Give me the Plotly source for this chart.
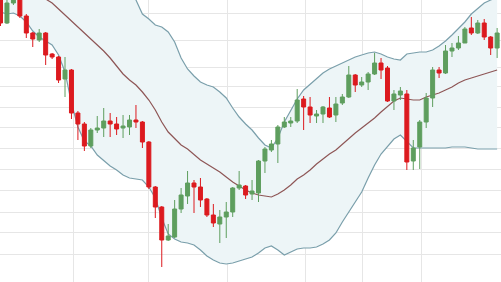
import plotly.graph_objects as go

# Candle data (price units), one entry per session
open_ = [284,259,279,284,266,249,242,249,228,225,
         203,212,169,158,136,152,154,161,158,154,
         155,162,160,140,95,75,42,45,73,86,
         99,95,83,67,58,65,70,94,96,88,
         89,121,132,138,155,159,161,183,175,166,
         168,174,167,179,185,207,197,200,208,219,
         214,181,187,188,121,135,160,184,212,209,
         231,234,239,254,249,259,245,234]
high = [287,282,288,287,268,250,253,250,229,226,
        225,213,171,160,154,166,174,169,165,167,
        167,177,161,141,96,76,58,82,94,111,
        102,104,84,78,72,80,95,111,97,102,
        122,135,142,157,165,165,193,186,185,172,
        176,185,185,188,216,208,205,210,229,224,
        216,192,195,192,142,162,189,215,215,237,
        239,246,255,265,262,263,246,254]
low = [256,258,277,264,244,235,240,217,223,199,
       185,163,142,131,134,149,145,145,147,144,
       147,154,134,93,64,15,41,44,69,78,
       69,75,65,55,39,44,65,92,83,82,
       80,109,130,119,154,155,159,152,159,159,
       159,164,160,177,184,190,195,192,207,203,
       180,172,182,112,112,113,154,175,204,208,
       225,232,239,247,248,242,227,224]
close = [259,279,285,266,249,243,249,227,225,202,
         212,169,158,136,152,154,161,158,153,156,
         162,160,140,95,75,42,46,73,87,99,
         95,82,67,59,65,70,94,97,87,91,
         121,133,138,155,160,161,182,175,167,168,
         175,165,178,185,207,197,200,208,219,212,
         181,188,191,120,134,160,184,212,209,231,
         234,239,253,249,259,245,234,249]

# Bollinger bands
upper = [400,399,398,396,394,392,389,386,382,378,
         374,369,364,358,352,345,337,328,318,306,
         294,282,268,263,257,255,250,240,224,213,
         206,200,197,195,190,184,174,165,158,152,
         144,137,134,144,160,172,183,192,198,204,
         209,213,216,219,222,225,227,229,230,228,
         225,223,222,228,229,230,230,232,236,241,
         247,253,260,268,274,279,282,285]
middle = [320,315,308,302,296,291,287,283,279,273,
          267,261,255,250,244,237,231,224,216,208,
          202,197,190,182,172,160,150,143,137,133,
          127,122,118,114,110,105,100,96,92,89,
          87,86,85,88,92,97,103,107,112,118,
          123,128,132,138,144,149,154,159,164,170,
          176,181,184,183,182,182,185,187,189,192,
          195,199,202,204,206,208,210,212]
lower = [270,268,269,266,260,251,245,241,237,227,
         210,179,155,141,136,127,121,116,112,107,
         104,103,102,95,84,64,48,43,40,39,
         37,32,26,22,19,18,19,21,23,25,
         29,34,36,32,27,30,33,34,34,35,
         38,42,49,60,70,80,90,104,117,128,
         136,143,147,140,134,134,134,134,134,134,
         135,135,135,134,133,133,133,133]

x = list(range(len(close)))

grid_y = [269, 242, 215, 196, 175, 155, 134, 113, 92, 70, 50, 28]
grid_x = [11.24, 22.87, 35.12, 47.21, 56.2, 65.35]
x_range = [-0.08, 77.6]
y_range = [0, 282]

band_col = "#7a9fab"
fig = go.Figure()
fig.add_trace(go.Scatter(x=x, y=lower, mode="lines",
                         line=dict(color=band_col, width=1.2), hoverinfo="skip"))
fig.add_trace(go.Scatter(x=x, y=upper, mode="lines", fill="tonexty",
                         fillcolor="#edf5f7",
                         line=dict(color=band_col, width=1.2), hoverinfo="skip"))
fig.add_trace(go.Scatter(x=x, y=middle, mode="lines",
                         line=dict(color="#8e5656", width=1.2), hoverinfo="skip"))
fig.add_trace(go.Candlestick(
    x=x, open=open_, high=high, low=low, close=close,
    xaxis="x2", yaxis="y2",
    increasing=dict(line=dict(color="#5e9e5e", width=1), fillcolor="#5e9e5e"),
    decreasing=dict(line=dict(color="#dc1a1f", width=1), fillcolor="#dc1a1f"),
    whiskerwidth=0,
))

fig.update_layout(
    width=501, height=282,
    margin=dict(l=0, r=0, t=0, b=0),
    paper_bgcolor="white", plot_bgcolor="white",
    showlegend=False,
    boxgap=0.12,
    xaxis=dict(range=x_range, rangeslider=dict(visible=False),
               tickmode="array", tickvals=grid_x, showticklabels=False,
               showgrid=True, gridcolor="#e6e6e6", gridwidth=1, zeroline=False,
               showline=True, linecolor="#555555", linewidth=2),
    yaxis=dict(range=y_range, tickmode="array", tickvals=grid_y,
               showticklabels=False, showgrid=True, gridcolor="#e6e6e6",
               gridwidth=1, zeroline=False),
    xaxis2=dict(range=x_range, overlaying="x", visible=False,
                rangeslider=dict(visible=False)),
    yaxis2=dict(range=y_range, overlaying="y", visible=False),
)

fig.write_html("out.html")
